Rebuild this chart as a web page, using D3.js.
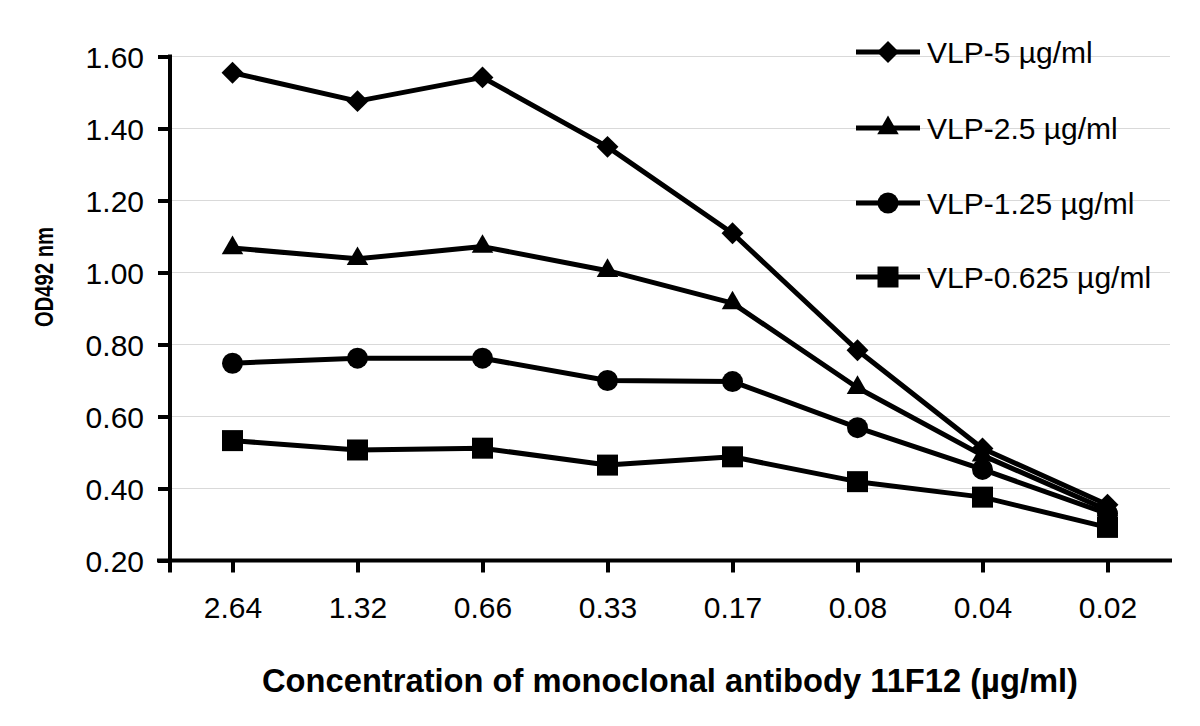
<!DOCTYPE html>
<html>
<head>
<meta charset="utf-8">
<script src="https://cdn.jsdelivr.net/npm/d3@7"></script>
<style>
  body { margin: 0; background: #fff; }
  text { font-family: "Liberation Sans", Arial, sans-serif; fill: #000; }
</style>
</head>
<body>
<script>
// values
var concentrations = ["2.64", "1.32", "0.66", "0.33", "0.17", "0.08", "0.04", "0.02"];
var seriesNames = ["VLP-5 µg/ml", "VLP-2.5 µg/ml", "VLP-1.25 µg/ml", "VLP-0.625 µg/ml"];
var vlp5 = [1.555, 1.476, 1.542, 1.349, 1.109, 0.784, 0.511, 0.355];
var vlp25 = [1.068, 1.038, 1.072, 1.005, 0.915, 0.680, 0.492, 0.340];
var vlp125 = [0.748, 0.762, 0.762, 0.700, 0.697, 0.569, 0.453, 0.330];
var vlp0625 = [0.533, 0.507, 0.512, 0.465, 0.488, 0.419, 0.376, 0.292];
var yTicks = [0.2, 0.4, 0.6, 0.8, 1.0, 1.2, 1.4, 1.6];

var width = 1200, height = 726;
var plot = { left: 170, right: 1170, top: 56.5, bottom: 560.5 };

var svg = d3.select("body").append("svg")
  .attr("width", width)
  .attr("height", height);

var x = d3.scalePoint()
  .domain(concentrations)
  .range([plot.left, plot.right])
  .padding(0.5);

var y = d3.scaleLinear()
  .domain([0.2, 1.6])
  .range([plot.bottom, plot.top]);

// grid lines
svg.append("g")
  .selectAll("line")
  .data(yTicks.slice(1))
  .join("line")
  .attr("x1", plot.left)
  .attr("x2", plot.right)
  .attr("y1", d => y(d))
  .attr("y2", d => y(d))
  .attr("stroke", "#d9d9d9")
  .attr("stroke-width", 1.2);

// y axis
var yAxis = d3.axisLeft(y).tickValues(yTicks).tickFormat(d3.format(".2f")).tickSize(12).tickSizeOuter(0).tickPadding(14);
var gy = svg.append("g").attr("transform", "translate(" + plot.left + ",0)").call(yAxis);
gy.select(".domain").remove();
gy.selectAll(".tick line").attr("stroke", "#000").attr("stroke-width", 4);
gy.selectAll(".tick text")
  .attr("font-size", 30)
  .attr("font-family", null)
  .attr("dy", "0.36em");

// x axis
var xAxis = d3.axisBottom(x).tickSize(12).tickSizeOuter(0).tickPadding(0);
var gx = svg.append("g").attr("transform", "translate(0," + plot.bottom + ")").call(xAxis);
gx.select(".domain").remove();
gx.selectAll(".tick line").attr("stroke", "#000").attr("stroke-width", 4);
gx.selectAll(".tick text")
  .attr("font-size", 30)
  .attr("font-family", null)
  .attr("dy", 0)
  .attr("y", 57);

// axis lines
svg.append("line")
  .attr("x1", plot.left).attr("x2", plot.left)
  .attr("y1", plot.top - 2).attr("y2", plot.bottom + 12)
  .attr("stroke", "#000").attr("stroke-width", 4);
svg.append("line")
  .attr("x1", plot.left - 13).attr("x2", plot.right + 2)
  .attr("y1", plot.bottom).attr("y2", plot.bottom)
  .attr("stroke", "#000").attr("stroke-width", 4);

// series
var seriesValues = [vlp5, vlp25, vlp125, vlp0625];
var symbols = [
  { type: d3.symbolSquare, size: 240, rotate: 45 },
  { type: d3.symbolTriangle, size: 200, rotate: 0 },
  { type: d3.symbolCircle, size: 346, rotate: 0 },
  { type: d3.symbolSquare, size: 441, rotate: 0 }
];

var line = d3.line()
  .x((d, i) => x(concentrations[i]))
  .y(d => y(d));

seriesValues.forEach(function(vals, s) {
  svg.append("path")
    .attr("d", line(vals))
    .attr("fill", "none")
    .attr("stroke", "#000")
    .attr("stroke-width", 5)
    .attr("stroke-linejoin", "round");
});

seriesValues.forEach(function(vals, s) {
  var sym = symbols[s];
  svg.append("g")
    .selectAll("path")
    .data(vals)
    .join("path")
    .attr("d", d3.symbol().type(sym.type).size(sym.size))
    .attr("transform", (d, i) => "translate(" + x(concentrations[i]) + "," + y(d) + ") rotate(" + sym.rotate + ")")
    .attr("fill", "#000");
});

// legend
var legendRowsY = [52, 128, 203, 277];
var legend = svg.append("g");
seriesNames.forEach(function(name, s) {
  var ly = legendRowsY[s];
  var sym = symbols[s];
  legend.append("line")
    .attr("x1", 856).attr("x2", 920)
    .attr("y1", ly).attr("y2", ly)
    .attr("stroke", "#000").attr("stroke-width", 5);
  legend.append("path")
    .attr("d", d3.symbol().type(sym.type).size(sym.size)())
    .attr("transform", "translate(888," + ly + ") rotate(" + sym.rotate + ")")
    .attr("fill", "#000");
  legend.append("text")
    .attr("x", 927)
    .attr("y", ly + 11)
    .attr("font-size", 30)
    .text(name);
});

// axis titles
svg.append("text")
  .attr("x", 670)
  .attr("y", 692)
  .attr("text-anchor", "middle")
  .attr("font-size", 34)
  .attr("font-weight", "bold")
  .attr("textLength", 816)
  .attr("lengthAdjust", "spacingAndGlyphs")
  .text("Concentration of monoclonal antibody 11F12 (µg/ml)");

svg.append("text")
  .attr("transform", "translate(53,277) rotate(-90)")
  .attr("text-anchor", "middle")
  .attr("font-size", 26)
  .attr("font-weight", "bold")
  .attr("textLength", 100)
  .attr("lengthAdjust", "spacingAndGlyphs")
  .text("OD492 nm");
</script>
</body>
</html>
